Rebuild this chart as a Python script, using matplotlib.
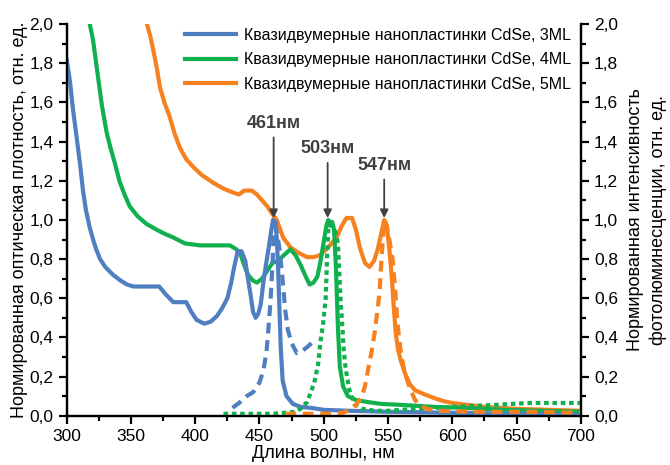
import matplotlib
matplotlib.use("Agg")
import matplotlib.pyplot as plt
from matplotlib.ticker import MultipleLocator, FuncFormatter

plt.rcParams['font.family'] = ['Liberation Sans', 'DejaVu Sans']

# absorption, 3ML
abs3_x = [300, 302.5, 305, 308, 310.5, 312.7, 315, 318, 321, 323, 326, 330, 336, 342, 347,
          352, 360, 372, 377, 383, 393, 397, 401, 407, 412, 417, 421, 425, 428, 430, 433,
          436, 439, 441, 443, 445, 447, 449, 451, 453, 455, 457, 459, 460.5, 461.5, 462.5,
          463.5, 464.5, 465.5, 466.5, 468, 471, 476, 482, 490, 500, 520, 550, 600, 650, 700]
abs3_y = [1.82, 1.71, 1.56, 1.41, 1.28, 1.15, 1.05, 0.96, 0.89, 0.85, 0.80, 0.76, 0.72, 0.69, 0.67,
          0.66, 0.66, 0.66, 0.62, 0.58, 0.58, 0.53, 0.49, 0.47, 0.48, 0.51, 0.55, 0.60, 0.68, 0.75, 0.84,
          0.84, 0.79, 0.70, 0.62, 0.53, 0.50, 0.52, 0.57, 0.68, 0.77, 0.85, 0.94, 1.00, 0.97, 0.99,
          0.90, 0.75, 0.55, 0.35, 0.18, 0.10, 0.06, 0.045, 0.04, 0.03, 0.025, 0.02, 0.015, 0.01, 0.005]

# photoluminescence, 3ML
pl3_x = [429, 435, 440, 445, 450, 453, 455.5, 457, 458.5, 460, 461, 462, 464, 466, 468, 470,
         472, 475, 479, 483, 487, 492]
pl3_y = [0.04, 0.07, 0.10, 0.12, 0.17, 0.23, 0.33, 0.45, 0.58, 0.76, 0.92, 0.97, 0.92, 0.83, 0.69, 0.54,
         0.44, 0.37, 0.32, 0.33, 0.35, 0.38]

# absorption, 4ML
abs4_x = [318, 320.5, 324, 327.5, 331, 334, 337.5, 341, 345, 349, 355, 362, 370, 376, 383, 392,
          404, 418, 427, 432, 435, 438, 441, 445, 448, 452, 456, 460, 464, 469, 474, 478, 482,
          486, 489, 492, 495, 497.5, 500, 502, 503.5, 505, 506.5, 508, 509.5, 511, 512.5, 515,
          518.7, 525, 534, 545, 561, 586, 610, 640, 700]
abs4_y = [2.0, 1.92, 1.75, 1.58, 1.45, 1.37, 1.29, 1.20, 1.13, 1.07, 1.02, 0.98, 0.95, 0.93, 0.91, 0.88,
          0.87, 0.87, 0.87, 0.85, 0.83, 0.77, 0.72, 0.69, 0.68, 0.70, 0.74, 0.78, 0.79, 0.82, 0.85, 0.82, 0.77,
          0.71, 0.67, 0.68, 0.71, 0.79, 0.89, 0.97, 1.00, 0.97, 0.99, 0.95, 0.75, 0.45, 0.25, 0.15,
          0.10, 0.08, 0.07, 0.06, 0.055, 0.045, 0.04, 0.03, 0.02]

# photoluminescence, 4ML
pl4_x = [422, 440, 460, 470, 478, 483, 487, 490, 493, 495.5, 497.5, 499.5, 501.5, 502.5, 503.5,
         505, 507, 509, 511, 513, 514.5, 515.5, 517, 520, 524, 530, 540, 550, 560, 575, 586,
         600, 615, 633, 645, 660, 700]
pl4_y = [0.01, 0.01, 0.01, 0.015, 0.02, 0.04, 0.07, 0.12, 0.18, 0.26, 0.38, 0.47, 0.60, 0.80, 0.95,
         1.00, 0.97, 0.94, 0.88, 0.60, 0.45, 0.34, 0.24, 0.13, 0.06, 0.035, 0.025, 0.025, 0.03, 0.035, 0.04,
         0.045, 0.05, 0.055, 0.06, 0.065, 0.065]

# absorption, 5ML
abs5_x = [362.5, 365, 367, 370, 372.5, 376, 380, 384, 388, 393, 398.6, 405, 414, 422, 429.5, 434,
          438, 444, 448, 452, 456, 460, 463.4, 468.4, 474, 481, 487, 492, 497, 502, 506, 510,
          514, 517.6, 522, 525, 528, 532, 535.5, 539, 542, 545, 547, 549, 551, 553, 554.5, 556,
          558, 560, 563, 567, 571, 578, 586, 593, 600, 612, 625, 650, 675, 700]
abs5_y = [2.0, 1.94, 1.88, 1.78, 1.68, 1.60, 1.53, 1.44, 1.37, 1.31, 1.27, 1.23, 1.19, 1.16, 1.14, 1.13,
          1.15, 1.15, 1.13, 1.10, 1.07, 1.03, 1.00, 0.91, 0.86, 0.83, 0.81, 0.81, 0.82, 0.85, 0.88, 0.91,
          0.97, 1.01, 1.01, 0.95, 0.86, 0.78, 0.76, 0.79, 0.85, 0.94, 1.00, 0.97, 0.85, 0.70, 0.55, 0.42,
          0.33, 0.28, 0.22, 0.16, 0.13, 0.11, 0.09, 0.075, 0.065, 0.055, 0.045, 0.035, 0.03, 0.025]

# photoluminescence, 5ML
pl5_x = [470, 490, 505, 515, 520, 525, 529.5, 532, 534, 537, 539.5, 542, 543.5, 545, 546.5, 547.5,
         549, 551, 553.5, 555.5, 557, 558.5, 560, 562, 564, 567, 571, 575, 580, 590, 620, 660, 700]
pl5_y = [0.01, 0.01, 0.01, 0.015, 0.03, 0.055, 0.095, 0.15, 0.22, 0.32, 0.42, 0.55, 0.64, 0.81, 0.95, 1.00,
         0.97, 0.90, 0.80, 0.65, 0.50, 0.40, 0.32, 0.25, 0.20, 0.14, 0.08, 0.055, 0.035, 0.025, 0.02, 0.02, 0.015]

labels = ['Квазидвумерные нанопластинки CdSe, 3ML',
          'Квазидвумерные нанопластинки CdSe, 4ML',
          'Квазидвумерные нанопластинки CdSe, 5ML']
peaks = [461, 503, 547]
peak_text_y = [1.45, 1.32, 1.235]

blue = '#4f7fc1'
green = '#10b04f'
orange = '#f7811f'
grey = '#404040'

fig = plt.figure(figsize=(6.7, 4.65), dpi=100)
ax = fig.add_axes([0.0995, 0.106, 0.7675, 0.842])
ax2 = ax.twinx()

lw = 3
ax.plot(abs3_x, abs3_y, color=blue, lw=lw, label=labels[0], zorder=3)
ax.plot(abs4_x, abs4_y, color=green, lw=lw, label=labels[1], zorder=2)
ax.plot(abs5_x, abs5_y, color=orange, lw=lw, label=labels[2], zorder=1)

ax2.plot(pl3_x, pl3_y, color=blue, lw=lw, dashes=(2.6, 1.6))
ax2.plot(pl4_x, pl4_y, color=green, lw=lw, dashes=(1.1, 0.9))
ax2.plot(pl5_x, pl5_y, color=orange, lw=lw, dashes=(2.6, 1.6))

for p, ty in zip(peaks, peak_text_y):
    ax.annotate(f'{p}нм', xy=(p, 1.01), xytext=(p, ty), ha='center', va='bottom',
                fontsize=13, fontweight='bold', color=grey,
                arrowprops=dict(arrowstyle='-|>', color=grey, lw=1.3,
                                mutation_scale=12, shrinkA=2, shrinkB=0))

comma = FuncFormatter(lambda v, pos: f'{v:.1f}'.replace('.', ','))
for a in (ax, ax2):
    a.set_ylim(0, 2.0)
    a.yaxis.set_major_locator(MultipleLocator(0.2))
    a.yaxis.set_minor_locator(MultipleLocator(0.1))
    a.yaxis.set_major_formatter(comma)
    a.spines['top'].set_visible(False)
    for s in a.spines.values():
        s.set_linewidth(1.6)
    a.tick_params(which='major', direction='out', length=6, width=1.6, labelsize=12.5)
    a.tick_params(which='minor', direction='out', length=3.5, width=1.6)

ax.set_xlim(300, 700)
ax.xaxis.set_major_locator(MultipleLocator(50))
ax.xaxis.set_minor_locator(MultipleLocator(25))

ax.set_xlabel('Длина волны, нм', fontsize=13, labelpad=1)
ax.set_ylabel('Нормированная оптическая плотность, отн. ед.', fontsize=13, labelpad=1)
ax2.set_ylabel('Нормированная интенсивность\nфотолюминесценции, отн. ед.', fontsize=13,
               labelpad=6, linespacing=1.45)

ax.legend(loc='upper right', bbox_to_anchor=(1.0, 1.015), frameon=False, fontsize=11.5,
          handlelength=3.2, handletextpad=0.5, labelspacing=0.6, borderaxespad=0.2)

fig.savefig('out.png', dpi=100)
